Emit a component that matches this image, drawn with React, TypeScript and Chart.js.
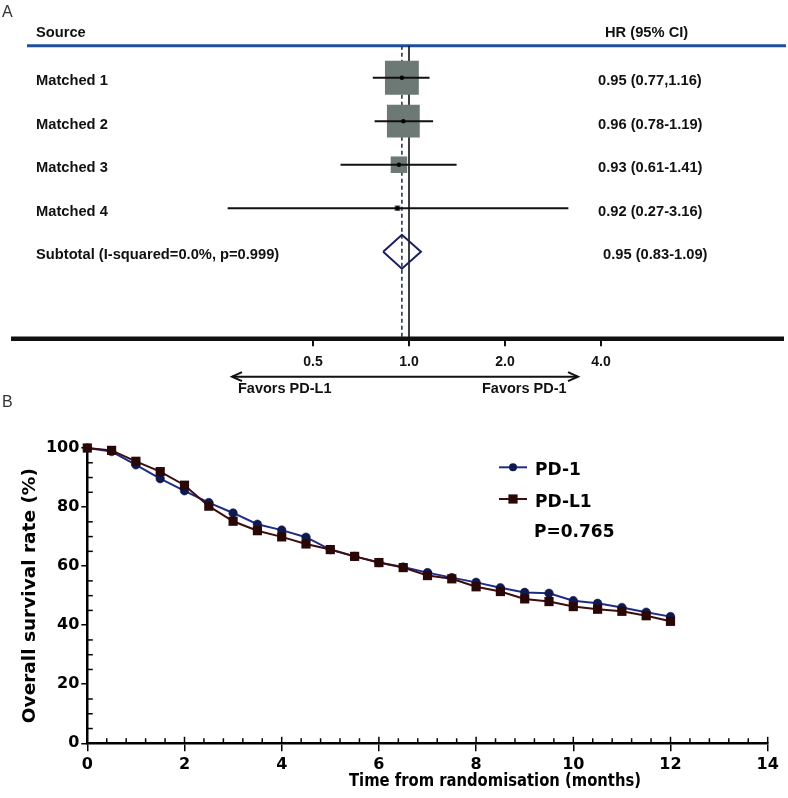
import React, { useEffect, useRef } from "react";
import { Chart, registerables } from "chart.js";

Chart.register(...registerables);

// ---------- Panel A: forest plot data ----------
const studies = ["Matched 1", "Matched 2", "Matched 3", "Matched 4"];
const hazardRatios = [0.95, 0.96, 0.93, 0.92];
const ciLower = [0.77, 0.78, 0.61, 0.27];
const ciUpper = [1.16, 1.19, 1.41, 3.16];
const studyWeights = [45.3, 42.6, 10.8, 1.3];
const hrLabels = ["0.95 (0.77,1.16)", "0.96 (0.78-1.19)", "0.93 (0.61-1.41)", "0.92 (0.27-3.16)"];
const subtotalLabel = "Subtotal (I-squared=0.0%, p=0.999)";
const pooledHR = 0.95;
const pooledLower = 0.83;
const pooledUpper = 1.09;
const pooledLabel = "0.95 (0.83-1.09)";
const hrAxisTicks = [0.5, 1, 2, 4];
const hrAxisTickLabels = ["0.5", "1.0", "2.0", "4.0"];
const favorsLeft = "Favors PD-L1";
const favorsRight = "Favors PD-1";
const headerSource = "Source";
const headerHR = "HR (95% CI)";

// ---------- Panel B: survival data ----------
const months = [0, 0.5, 1, 1.5, 2, 2.5, 3, 3.5, 4, 4.5, 5, 5.5, 6, 6.5, 7, 7.5, 8, 8.5, 9, 9.5, 10, 10.5, 11, 11.5, 12];
const pd1Survival = [100, 98.8, 94.3, 89.6, 85.5, 81.5, 78.0, 74.2, 72.2, 69.8, 65.6, 63.3, 61.2, 59.7, 57.8, 56.1, 54.5, 52.7, 51.1, 50.8, 48.3, 47.4, 46.0, 44.4, 42.9];
const pdl1Survival = [100, 99.2, 95.5, 92.0, 87.4, 80.3, 75.2, 72.0, 69.9, 67.5, 65.6, 63.3, 61.2, 59.5, 56.8, 55.7, 53.0, 51.4, 48.9, 48.0, 46.3, 45.4, 44.7, 43.2, 41.3];
const seriesNames = ["PD-1", "PD-L1"];
const pValueLabel = "P=0.765";
const xAxisTitle = "Time from randomisation (months)";
const yAxisTitle = "Overall survival rate (%)";

const ARIAL = '"Liberation Sans", Arial, sans-serif';
const VERDANA = '"DejaVu Sans", Verdana, sans-serif';

function strokeLine(ctx: CanvasRenderingContext2D, x1: number, y1: number, x2: number, y2: number) {
  ctx.beginPath();
  ctx.moveTo(x1, y1);
  ctx.lineTo(x2, y2);
  ctx.stroke();
}

function ForestPlot() {
  const ref = useRef<HTMLCanvasElement>(null);
  useEffect(() => {
    const canvas = ref.current!;
    const rows = studies.map((_, i) => i + 1);
    const subtotalRow = studies.length + 1;
    const blueRow = 0.264;
    const bottomRow = 7;
    const boxRadius = studyWeights.map((w) => (5.03 * Math.sqrt(w)) / Math.SQRT2);
    const textFont = `bold 14.7px ${ARIAL}`;

    const ciDatasets = studies.map((s, i) => ({
      label: s + " CI",
      data: [
        { x: ciLower[i], y: rows[i] },
        { x: ciUpper[i], y: rows[i] },
      ],
      showLine: true,
      borderColor: "#111",
      borderWidth: 2,
      pointRadius: 0,
      clip: false,
      order: 1,
    }));

    const decor = {
      id: "forestDecor",
      beforeDatasetsDraw(chart: any) {
        const { ctx, scales } = chart;
        const y = scales.y;
        ctx.save();
        ctx.strokeStyle = "#1d4f9e";
        ctx.lineWidth = 3;
        strokeLine(ctx, 27, y.getPixelForValue(blueRow), 786, y.getPixelForValue(blueRow));
        ctx.restore();
      },
      afterDatasetsDraw(chart: any) {
        const { ctx, scales } = chart;
        const x = scales.x;
        const y = scales.y;
        const yPix = (v: number) => y.getPixelForValue(v);
        ctx.save();
        ctx.fillStyle = "#111";
        ctx.textBaseline = "alphabetic";
        ctx.textAlign = "left";
        ctx.font = textFont;
        ctx.fillText(headerSource, 36, yPix(0) + 2.9);
        ctx.fillText(headerHR, 605, yPix(0) + 2.9);
        studies.forEach((s, i) => {
          const yy = yPix(rows[i]) + 7.6;
          ctx.fillText(s, 36, yy);
          ctx.fillText(hrLabels[i], 598, yy);
        });
        ctx.fillText(subtotalLabel, 36, yPix(subtotalRow) + 7.6);
        ctx.fillText(pooledLabel, 603, yPix(subtotalRow) + 7.6);

        // thick x axis
        const yb = yPix(bottomRow);
        ctx.strokeStyle = "#111";
        ctx.lineWidth = 4.5;
        strokeLine(ctx, 11, yb, 784, yb);
        ctx.lineWidth = 2;
        ctx.font = `bold 14px ${ARIAL}`;
        ctx.textAlign = "center";
        hrAxisTicks.forEach((t, i) => {
          const px = x.getPixelForValue(t);
          strokeLine(ctx, px, yb + 2, px, yb + 7.5);
          ctx.fillText(hrAxisTickLabels[i], px, 366);
        });

        // double arrow
        const ay = 376.7;
        const ax1 = 232;
        const ax2 = 578;
        ctx.lineWidth = 2;
        strokeLine(ctx, ax1, ay, ax2, ay);
        ctx.beginPath();
        ctx.moveTo(ax1 + 10, ay - 4.5);
        ctx.lineTo(ax1, ay);
        ctx.lineTo(ax1 + 10, ay + 4.5);
        ctx.moveTo(ax2 - 10, ay - 4.5);
        ctx.lineTo(ax2, ay);
        ctx.lineTo(ax2 - 10, ay + 4.5);
        ctx.stroke();

        ctx.textAlign = "left";
        ctx.font = `bold 14.5px ${ARIAL}`;
        ctx.fillText(favorsLeft, 238, 393);
        ctx.fillText(favorsRight, 482, 393);

        ctx.font = `16px ${ARIAL}`;
        ctx.fillStyle = "#333";
        ctx.fillText("A", 2, 16.7);
        ctx.restore();
      },
    };

    const chart = new Chart(canvas, {
      type: "scatter",
      data: {
        datasets: [
          {
            label: "estimate",
            data: studies.map((_, i) => ({ x: hazardRatios[i], y: rows[i] })),
            pointRadius: 2.2,
            pointBackgroundColor: "#000",
            pointBorderWidth: 0,
            clip: false,
            order: 0,
          },
          ...ciDatasets,
          {
            label: "pooled",
            data: [
              { x: pooledLower, y: subtotalRow },
              { x: pooledHR, y: subtotalRow - 0.39 },
              { x: pooledUpper, y: subtotalRow },
              { x: pooledHR, y: subtotalRow + 0.39 },
              { x: pooledLower, y: subtotalRow },
            ],
            showLine: true,
            borderColor: "#1b1f5e",
            borderWidth: 2,
            pointRadius: 0,
            clip: false,
            order: 1,
          },
          {
            label: "weights",
            data: studies.map((_, i) => ({ x: hazardRatios[i], y: rows[i] })),
            pointStyle: "rect",
            pointRadius: boxRadius,
            pointBackgroundColor: "#6c7975",
            pointBorderWidth: 0,
            clip: false,
            order: 2,
          },
          {
            label: "no effect",
            data: [
              { x: 1, y: blueRow },
              { x: 1, y: bottomRow },
            ],
            showLine: true,
            borderColor: "#111",
            borderWidth: 1.6,
            pointRadius: 0,
            clip: false,
            order: 3,
          },
          {
            label: "pooled estimate",
            data: [
              { x: pooledHR, y: blueRow },
              { x: pooledHR, y: bottomRow },
            ],
            showLine: true,
            borderColor: "#2a3848",
            borderWidth: 1.6,
            borderDash: [4, 3],
            pointRadius: 0,
            clip: false,
            order: 3,
          },
        ] as any,
      },
      options: {
        animation: false,
        responsive: false,
        maintainAspectRatio: false,
        events: [],
        layout: { padding: { left: 217, right: 91, top: 34.2, bottom: 55.3 } },
        plugins: { legend: { display: false }, tooltip: { enabled: false } },
        scales: {
          x: { type: "logarithmic", min: 0.25, max: 8, display: false },
          y: { type: "linear", min: 0, max: 7, reverse: true, display: false },
        },
      } as any,
      plugins: [decor],
    });
    return () => chart.destroy();
  }, []);
  return (
    <canvas
      ref={ref}
      width={788}
      height={394}
      style={{ position: "absolute", left: 0, top: 0, width: 788, height: 394 }}
    />
  );
}

function SurvivalPlot() {
  const ref = useRef<HTMLCanvasElement>(null);
  useEffect(() => {
    const canvas = ref.current!;
    const tickFont = { family: VERDANA, size: 16, weight: "bold" };

    const decor = {
      id: "survivalDecor",
      beforeDatasetsDraw(chart: any) {
        const { ctx, chartArea, scales } = chart;
        const x = scales.x;
        const y = scales.y;
        ctx.save();
        ctx.strokeStyle = "#000";
        ctx.lineWidth = 1.5;
        for (let k = 1; k <= 20; k++) {
          const v = k * 5;
          if (v % 20 === 0) continue;
          const py = y.getPixelForValue(v);
          strokeLine(ctx, chartArea.left, py, chartArea.left + 5.5, py);
        }
        for (let k = 1; k <= 35; k++) {
          const px = x.getPixelForValue(k * 0.4);
          const len = k % 5 === 0 ? 6.5 : 5;
          strokeLine(ctx, px, chartArea.bottom, px, chartArea.bottom - len);
        }
        ctx.restore();
      },
      afterDraw(chart: any) {
        const { ctx } = chart;
        const ds = chart.data.datasets;
        ctx.save();
        // x title (narrow bold face)
        ctx.font = `bold 18px ${VERDANA}`;
        ctx.fillStyle = "#000";
        ctx.textBaseline = "alphabetic";
        ctx.textAlign = "left";
        const w = ctx.measureText(xAxisTitle).width;
        ctx.save();
        ctx.translate(349, 391.7);
        ctx.scale(292 / w, 1);
        ctx.fillText(xAxisTitle, 0, 0);
        ctx.restore();

        // legend
        const ly1 = 73.3;
        const ly2 = 105;
        ctx.lineWidth = 2;
        ctx.strokeStyle = ds[0].borderColor;
        strokeLine(ctx, 499, ly1, 527, ly1);
        ctx.fillStyle = ds[0].pointBackgroundColor;
        ctx.beginPath();
        ctx.arc(513, ly1, 4, 0, Math.PI * 2);
        ctx.fill();
        ctx.strokeStyle = ds[1].borderColor;
        strokeLine(ctx, 499, ly2, 527, ly2);
        ctx.fillStyle = ds[1].pointBackgroundColor;
        ctx.fillRect(513 - 4.6, ly2 - 4.6, 9.2, 9.2);

        ctx.fillStyle = "#000";
        ctx.font = `bold 17px ${VERDANA}`;
        ctx.fillText(seriesNames[0], 535, 81);
        ctx.fillText(seriesNames[1], 535, 112.7);
        ctx.fillText(pValueLabel, 534, 142.7);

        ctx.font = `16px ${ARIAL}`;
        ctx.fillStyle = "#333";
        ctx.fillText("B", 2, 12.7);
        ctx.restore();
      },
    };

    const chart = new Chart(canvas, {
      type: "line",
      data: {
        datasets: [
          {
            label: seriesNames[0],
            data: months.map((m, i) => ({ x: m, y: pd1Survival[i] })),
            borderColor: "#1f2c86",
            borderWidth: 2,
            pointStyle: "circle",
            pointRadius: 4.3,
            pointBackgroundColor: "#101850",
            pointBorderColor: "#101850",
            pointBorderWidth: 0.5,
            tension: 0,
            clip: false,
            order: 1,
          },
          {
            label: seriesNames[1],
            data: months.map((m, i) => ({ x: m, y: pdl1Survival[i] })),
            borderColor: "#3e0c0c",
            borderWidth: 2,
            pointStyle: "rect",
            pointRadius: 6.5,
            pointBackgroundColor: "#2a0707",
            pointBorderColor: "#2a0707",
            pointBorderWidth: 0,
            tension: 0,
            clip: false,
            order: 0,
          },
        ] as any,
      },
      options: {
        animation: false,
        responsive: false,
        maintainAspectRatio: false,
        events: [],
        layout: { padding: { left: 0, right: 20.3, top: 54, bottom: 0 } },
        plugins: { legend: { display: false }, tooltip: { enabled: false } },
        scales: {
          x: {
            type: "linear",
            min: 0,
            max: 14,
            ticks: { stepSize: 2, font: tickFont, color: "#000", padding: 4 },
            grid: { drawOnChartArea: false, drawTicks: true, tickLength: 8, color: "#000", lineWidth: 1.5 },
            border: { display: true, color: "#000", width: 2.5 },
            afterFit: (s: any) => {
              s.height = 54.7;
            },
          },
          y: {
            type: "linear",
            min: 0,
            max: 100,
            ticks: { stepSize: 20, font: tickFont, color: "#000", padding: 2 },
            grid: { drawOnChartArea: false, drawTicks: true, tickLength: 6, color: "#000", lineWidth: 1.5 },
            border: { display: true, color: "#000", width: 2.5 },
            title: {
              display: true,
              text: yAxisTitle,
              color: "#000",
              font: { family: VERDANA, size: 18.5, weight: "bold" },
              padding: { top: 19, bottom: 0 },
            },
            afterFit: (s: any) => {
              s.width = 87.3;
            },
          },
        },
      } as any,
      plugins: [decor],
    });
    return () => chart.destroy();
  }, []);
  return (
    <canvas
      ref={ref}
      width={788}
      height={404}
      style={{ position: "absolute", left: 0, top: 394, width: 788, height: 404 }}
    />
  );
}

export default function App() {
  return (
    <div style={{ position: "absolute", left: 0, top: 0, width: 788, height: 798, background: "#fff" }}>
      <ForestPlot />
      <SurvivalPlot />
    </div>
  );
}
